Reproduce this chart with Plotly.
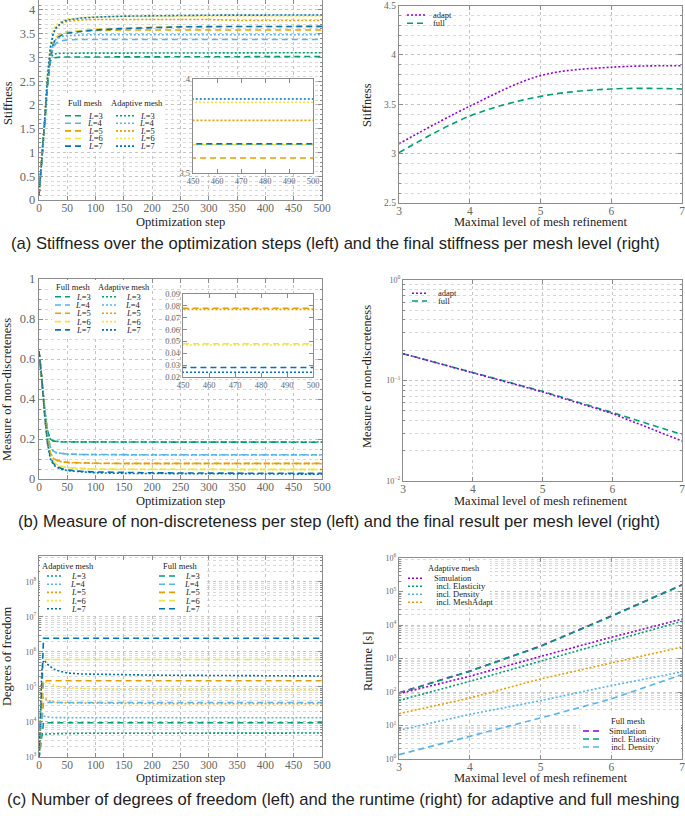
import plotly.graph_objects as go

W, H = 685, 816
SERIF = "Liberation Serif"
SANS = "Liberation Sans"

# ---------------- data ----------------
steps = [0, 5, 10, 15, 20, 25, 30, 40, 50, 75, 100, 150, 200, 250, 300, 350, 400, 450, 500]
levels = [3, 4, 5, 6, 7]

stiff_full_L3 = [0.10, 0.80, 1.60, 2.40, 2.92, 2.99, 3.00, 3.01, 3.01, 3.01, 3.01, 3.02, 3.02, 3.02, 3.02, 3.02, 3.02, 3.02, 3.02]
stiff_full_L4 = [0.10, 0.80, 1.60, 2.40, 2.95, 3.20, 3.30, 3.35, 3.37, 3.38, 3.38, 3.38, 3.38, 3.38, 3.38, 3.38, 3.38, 3.38, 3.38]
stiff_full_L5 = [0.10, 0.80, 1.62, 2.45, 3.00, 3.30, 3.42, 3.51, 3.54, 3.56, 3.57, 3.58, 3.58, 3.58, 3.58, 3.58, 3.58, 3.58, 3.58]
stiff_full_L6 = [0.10, 0.80, 1.62, 2.45, 3.00, 3.30, 3.42, 3.50, 3.53, 3.57, 3.60, 3.62, 3.64, 3.65, 3.65, 3.65, 3.65, 3.65, 3.65]
stiff_full_L7 = [0.10, 0.80, 1.62, 2.45, 3.00, 3.28, 3.40, 3.47, 3.51, 3.55, 3.58, 3.61, 3.63, 3.645, 3.65, 3.655, 3.655, 3.655, 3.655]
stiff_adapt_L3 = [0.10, 0.80, 1.62, 2.45, 3.00, 3.06, 3.08, 3.09, 3.09, 3.09, 3.10, 3.10, 3.10, 3.10, 3.10, 3.10, 3.10, 3.10, 3.10]
stiff_adapt_L4 = [0.10, 0.80, 1.62, 2.45, 3.00, 3.28, 3.38, 3.44, 3.46, 3.47, 3.48, 3.48, 3.48, 3.48, 3.48, 3.48, 3.48, 3.48, 3.48]
stiff_adapt_L5 = [0.10, 0.82, 1.70, 2.60, 3.20, 3.50, 3.62, 3.72, 3.76, 3.79, 3.80, 3.80, 3.80, 3.80, 3.80, 3.78, 3.78, 3.78, 3.78]
stiff_adapt_L6 = [0.10, 0.82, 1.70, 2.60, 3.25, 3.55, 3.68, 3.77, 3.81, 3.84, 3.855, 3.865, 3.87, 3.875, 3.875, 3.876, 3.876, 3.876, 3.876]
stiff_adapt_L7 = [0.10, 0.82, 1.70, 2.60, 3.20, 3.50, 3.62, 3.74, 3.79, 3.83, 3.85, 3.87, 3.88, 3.885, 3.89, 3.892, 3.894, 3.894, 3.894]

nd_full_L3 = [0.64, 0.50, 0.34, 0.24, 0.20, 0.19, 0.188, 0.186, 0.185, 0.185, 0.184, 0.184, 0.184, 0.184, 0.184, 0.184, 0.184, 0.184, 0.184]
nd_full_L4 = [0.64, 0.50, 0.33, 0.22, 0.16, 0.14, 0.132, 0.127, 0.125, 0.123, 0.122, 0.121, 0.121, 0.121, 0.121, 0.121, 0.121, 0.121, 0.121]
nd_full_L5 = [0.64, 0.50, 0.33, 0.20, 0.13, 0.105, 0.095, 0.087, 0.083, 0.080, 0.079, 0.078, 0.078, 0.078, 0.078, 0.078, 0.078, 0.078, 0.078]
nd_full_L6 = [0.64, 0.50, 0.32, 0.19, 0.12, 0.090, 0.075, 0.062, 0.057, 0.052, 0.050, 0.049, 0.048, 0.048, 0.048, 0.048, 0.048, 0.048, 0.048]
nd_full_L7 = [0.64, 0.50, 0.32, 0.18, 0.11, 0.080, 0.065, 0.052, 0.045, 0.038, 0.035, 0.032, 0.031, 0.030, 0.029, 0.029, 0.028, 0.028, 0.028]
nd_adapt_L3 = [0.64, 0.50, 0.34, 0.24, 0.20, 0.19, 0.188, 0.186, 0.186, 0.185, 0.185, 0.185, 0.185, 0.185, 0.185, 0.185, 0.185, 0.185, 0.185]
nd_adapt_L4 = [0.64, 0.50, 0.33, 0.22, 0.16, 0.14, 0.131, 0.126, 0.124, 0.122, 0.121, 0.120, 0.120, 0.120, 0.120, 0.120, 0.120, 0.120, 0.120]
nd_adapt_L5 = [0.64, 0.50, 0.33, 0.20, 0.13, 0.104, 0.094, 0.086, 0.082, 0.079, 0.078, 0.077, 0.077, 0.077, 0.077, 0.079, 0.077, 0.077, 0.077]
nd_adapt_L6 = [0.64, 0.50, 0.32, 0.19, 0.12, 0.089, 0.074, 0.061, 0.056, 0.051, 0.049, 0.048, 0.047, 0.047, 0.047, 0.047, 0.047, 0.047, 0.047]
nd_adapt_L7 = [0.64, 0.50, 0.32, 0.18, 0.10, 0.075, 0.060, 0.048, 0.042, 0.035, 0.031, 0.028, 0.027, 0.026, 0.025, 0.025, 0.025, 0.024, 0.024]

dof_steps = [0, 3, 5, 8, 10, 15, 20, 30, 50, 75, 100, 150, 200, 250, 300, 350, 400, 450, 500]
dof_adapt_L3 = [900, 4200, 4300, 4400, 4500, 4550, 4600, 4650, 4700, 4750, 4750, 4800, 4800, 4800, 4800, 4800, 4800, 4850, 4850]
dof_adapt_L4 = [900, 9000, 14000, 15000, 14500, 14000, 13500, 13300, 13200, 13200, 13200, 13200, 13200, 13200, 13200, 13200, 13200, 13200, 13200]
dof_adapt_L5 = [900, 20000, 45000, 50000, 47000, 42000, 39000, 36000, 35000, 34500, 34000, 34000, 33500, 33500, 33500, 33500, 33500, 33500, 33500]
dof_adapt_L6 = [900, 40000, 120000, 150000, 145000, 130000, 120000, 105000, 95000, 90000, 88000, 86000, 85000, 85000, 85000, 84000, 84000, 84000, 84000]
dof_adapt_L7 = [900, 80000, 300000, 580000, 550000, 450000, 380000, 300000, 250000, 235000, 230000, 222000, 218000, 215000, 212000, 210000, 208000, 207000, 206000]
dof_full_steps = [0, 8, 500]
dof_full_L3 = [900, 9500, 9500]
dof_full_L4 = [900, 36000, 36000]
dof_full_L5 = [900, 150000, 150000]
dof_full_L6 = [900, 610000, 610000]
dof_full_L7 = [900, 2450000, 2450000]

final_stiff_adapt = [3.10, 3.48, 3.79, 3.875, 3.89]
final_stiff_full = [3.01, 3.38, 3.58, 3.655, 3.655]
final_nd_adapt = [0.185, 0.120, 0.077, 0.047, 0.025]
final_nd_full = [0.185, 0.121, 0.078, 0.048, 0.029]

rt_adapt_sim = [89, 295, 1150, 4300, 15000]
rt_adapt_elast = [56, 208, 830, 3250, 12900]
rt_adapt_dens = [7.2, 21.5, 55, 155, 400]
rt_adapt_mesh = [22.5, 66, 245, 740, 2200]
rt_full_sim = [95, 420, 2350, 18500, 158000]
rt_full_elast = [93, 415, 2300, 18000, 156000]
rt_full_dens = [1.35, 4.7, 16.7, 62, 330]

dof_tickvals = [1e3, 1e4, 1e5, 1e6, 1e7, 1e8]
dof_ticktext = ["10<sup>3</sup>", "10<sup>4</sup>", "10<sup>5</sup>", "10<sup>6</sup>", "10<sup>7</sup>", "10<sup>8</sup>"]
nd_tickvals = [0.01, 0.1, 1]
nd_ticktext = ["10<sup>\u22122</sup>", "10<sup>\u22121</sup>", "10<sup>0</sup>"]
rt_tickvals = [1, 10, 100, 1e3, 1e4, 1e5, 1e6]
rt_ticktext = ["10<sup>0</sup>", "10<sup>1</sup>", "10<sup>2</sup>", "10<sup>3</sup>", "10<sup>4</sup>", "10<sup>5</sup>", "10<sup>6</sup>"]

captions = [
    "(a) Stiffness over the optimization steps (left) and the final stiffness per mesh level (right)",
    "(b) Measure of non-discreteness per step (left) and the final result per mesh level (right)",
    "(c) Number of degrees of freedom (left) and the runtime (right) for adaptive and full meshing",
]

# ---------------- styles ----------------
LEVEL_COLORS = {3: "#009E73", 4: "#56B4E9", 5: "#E69F00", 6: "#F0E442", 7: "#0072B2"}
PURPLE = "#9400D3"
GREEN = "#009E73"
LBLUE = "#56B4E9"
ORANGE = "#E69F00"
DASH = "6px,4px"
DOT = "2px,2px"
LW = 1.6

stiff_full = dict(zip(levels, [stiff_full_L3, stiff_full_L4, stiff_full_L5, stiff_full_L6, stiff_full_L7]))
stiff_adapt = dict(zip(levels, [stiff_adapt_L3, stiff_adapt_L4, stiff_adapt_L5, stiff_adapt_L6, stiff_adapt_L7]))
nd_full = dict(zip(levels, [nd_full_L3, nd_full_L4, nd_full_L5, nd_full_L6, nd_full_L7]))
nd_adapt = dict(zip(levels, [nd_adapt_L3, nd_adapt_L4, nd_adapt_L5, nd_adapt_L6, nd_adapt_L7]))
dof_adapt = dict(zip(levels, [dof_adapt_L3, dof_adapt_L4, dof_adapt_L5, dof_adapt_L6, dof_adapt_L7]))
dof_full = dict(zip(levels, [dof_full_L3, dof_full_L4, dof_full_L5, dof_full_L6, dof_full_L7]))


def fx(p):
    return p / W


def fy(p):
    return 1 - p / H


def dom_x(a, b):
    return [fx(a), fx(b)]


def dom_y(top, bottom):
    return [fy(bottom), fy(top)]


fig = go.Figure()


def line(x, y, ax, color, dash, name, shape="linear", width=LW):
    fig.add_trace(go.Scatter(
        x=x, y=y, mode="lines", name=name, showlegend=False,
        xaxis="x" + ax, yaxis="y" + ax,
        line=dict(color=color, dash=dash, width=width, shape=shape),
        hoverinfo="skip"))


# top-left (axis "") + inset ("3")
for ax in ["", "3"]:
    for L in levels:
        line(steps, stiff_full[L], ax, LEVEL_COLORS[L], DASH, f"Full L={L}")
    for L in levels:
        line(steps, stiff_adapt[L], ax, LEVEL_COLORS[L], DOT, f"Adaptive L={L}")

# top-right
line(levels, final_stiff_full, "2", GREEN, DASH, "full", shape="spline")
line(levels, final_stiff_adapt, "2", PURPLE, DOT, "adapt", shape="spline")

# middle-left ("4") + inset ("6")
for ax in ["4", "6"]:
    for L in levels:
        line(steps, nd_full[L], ax, LEVEL_COLORS[L], DASH, f"Full L={L}")
    for L in levels:
        line(steps, nd_adapt[L], ax, LEVEL_COLORS[L], DOT, f"Adaptive L={L}")

# middle-right
line(levels, final_nd_full, "5", GREEN, DASH, "full")
line(levels, final_nd_adapt, "5", PURPLE, DOT, "adapt")

# bottom-left
for L in levels:
    line(dof_steps, dof_adapt[L], "7", LEVEL_COLORS[L], DOT, f"Adaptive L={L}")
for L in levels:
    line(dof_full_steps, dof_full[L], "7", LEVEL_COLORS[L], DASH, f"Full L={L}")

# bottom-right
line(levels, rt_full_sim, "8", PURPLE, DASH, "Full Simulation")
line(levels, rt_full_elast, "8", GREEN, DASH, "Full incl. Elasticity")
line(levels, rt_full_dens, "8", LBLUE, DASH, "Full incl. Density")
line(levels, rt_adapt_sim, "8", PURPLE, DOT, "Adaptive Simulation")
line(levels, rt_adapt_elast, "8", GREEN, DOT, "Adaptive incl. Elasticity")
line(levels, rt_adapt_dens, "8", LBLUE, DOT, "Adaptive incl. Density")
line(levels, rt_adapt_mesh, "8", ORANGE, DOT, "Adaptive incl. MeshAdapt")

# ---------------- axes ----------------
FRAME = "#8c8c8c"
TICKC = "#666666"
TITLEC = "#222222"


def axis(domain, rng, anchor, tick_size=12.5, grid=True, minor_dtick=None, log=False, **kw):
    d = dict(domain=domain, range=rng, anchor=anchor, showline=True, linecolor=FRAME,
             linewidth=1.4, mirror="ticks", ticks="inside", ticklen=4, tickcolor=FRAME,
             tickfont=dict(family=SERIF, size=tick_size, color=TICKC),
             showgrid=grid, gridcolor="#c4c4c4", griddash="dot", gridwidth=1,
             zeroline=False, layer="above traces", automargin=False,
             ticklabeloverflow="allow")
    if log:
        d["type"] = "log"
    if minor_dtick is not None:
        d["minor"] = dict(dtick=minor_dtick, showgrid=grid, gridcolor="#d9d9d9",
                          griddash="dot", gridwidth=1, ticks="inside", ticklen=2,
                          tickcolor=FRAME)
    d.update(kw)
    return d


def xmain(domain, rng, anchor, **kw):
    return axis(domain, rng, anchor, tick_size=11.5, ticklabelstandoff=-3, **kw)


L_X = (39, 322)
R_X = (399, 682)

lay = dict(
    # top-left
    xaxis=xmain(dom_x(*L_X), [0, 500], "y", dtick=50),
    yaxis=axis(dom_y(0, 200), [0, 4.21], "x", dtick=0.5, minor_dtick=0.1),
    # top-right
    xaxis2=xmain(dom_x(*R_X), [3, 7], "y2", dtick=1),
    yaxis2=axis(dom_y(5.5, 203), [2.5, 4.5], "x2", tick_size=9.5, dtick=0.5, minor_dtick=0.1),
    # top inset
    xaxis3=axis(dom_x(193, 313), [450, 500], "y3", tick_size=8.5, grid=False, dtick=10),
    yaxis3=axis(dom_y(79, 173), [3.5, 4.0], "x3", tick_size=8.5, grid=False, dtick=0.5),
    # middle-left
    xaxis4=xmain(dom_x(*L_X), [0, 500], "y4", dtick=50),
    yaxis4=axis(dom_y(279, 479), [0, 1], "x4", dtick=0.2, minor_dtick=0.05),
    # middle-right
    xaxis5=xmain(dom_x(403, 682), [3, 7], "y5", dtick=1),
    yaxis5=axis(dom_y(280, 481), [-2, 0], "x5", tick_size=8, log=True, tickmode="array",
                tickvals=nd_tickvals, ticktext=nd_ticktext, minor_dtick="D1"),
    # middle inset
    xaxis6=axis(dom_x(183, 313), [450, 500], "y6", tick_size=8.5, grid=False, dtick=10),
    yaxis6=axis(dom_y(294, 377), [0.02, 0.09], "x6", tick_size=8.5, grid=False, dtick=0.01),
    # bottom-left
    xaxis7=xmain(dom_x(*L_X), [0, 500], "y7", dtick=50),
    yaxis7=axis(dom_y(556, 757), [3, 8.74], "x7", tick_size=8, log=True, tickmode="array",
                tickvals=dof_tickvals, ticktext=dof_ticktext, minor_dtick="D1"),
    # bottom-right
    xaxis8=xmain(dom_x(*R_X), [3, 7], "y8", dtick=1),
    yaxis8=axis(dom_y(558, 759), [0, 6], "x8", tick_size=8, log=True, tickmode="array",
                tickvals=rt_tickvals, ticktext=rt_ticktext, minor_dtick="D1"),
)

shapes = []
annotations = []

# white backgrounds for the insets (drawn inside the inset subplot, below its traces)
for ax, xr, yr in [("3", lay["xaxis3"]["range"], lay["yaxis3"]["range"]),
                   ("6", lay["xaxis6"]["range"], lay["yaxis6"]["range"])]:
    shapes.append(dict(type="rect", xref="x" + ax, yref="y" + ax, x0=xr[0], x1=xr[1],
                       y0=yr[0], y1=yr[1], fillcolor="white", line=dict(width=0),
                       layer="below"))

# axis titles
TITLE_FONT = dict(family=SERIF, size=12.5, color=TITLEC)


def xtitle(text, xc, y):
    annotations.append(dict(text=text, x=fx(xc), y=fy(y), xref="paper", yref="paper",
                            showarrow=False, xanchor="center", yanchor="middle",
                            font=TITLE_FONT))


def ytitle(text, x, yc):
    annotations.append(dict(text=text, x=fx(x), y=fy(yc), xref="paper", yref="paper",
                            showarrow=False, xanchor="center", yanchor="middle",
                            textangle=-90, font=TITLE_FONT))


for ty in [222, 501, 778]:
    xtitle("Optimization step", (L_X[0] + L_X[1]) / 2, ty)
    xtitle("Maximal level of mesh refinement", (R_X[0] + R_X[1]) / 2, ty)

ytitle("Stiffness", 8, 103)
ytitle("Measure of non-discreteness", 7, 390)
ytitle("Degrees of freedom", 7, 656)
ytitle("Stiffness", 367, 105)
ytitle("Measure of non-discreteness", 367, 377)
ytitle("Runtime [s]", 368, 662)

LEG_FONT = dict(family=SERIF, size=8.5, color="#222")


def leg_bg(x0, y0, x1, y1):
    shapes.append(dict(type="rect", xref="paper", yref="paper", x0=fx(x0), x1=fx(x1),
                       y0=fy(y1), y1=fy(y0), fillcolor="white", line=dict(width=0),
                       layer="above"))


def leg_title(text, xc, y):
    annotations.append(dict(text=text, x=fx(xc), y=fy(y), xref="paper", yref="paper",
                            showarrow=False, xanchor="center", yanchor="middle",
                            font=LEG_FONT))


def leg_items(items, xs0, xs1, xl, y0, dy, anchor="left"):
    for i, (color, dash, label) in enumerate(items):
        y = y0 + i * dy
        shapes.append(dict(type="line", xref="paper", yref="paper", x0=fx(xs0), x1=fx(xs1),
                           y0=fy(y), y1=fy(y), line=dict(color=color, dash=dash, width=LW),
                           layer="above"))
        annotations.append(dict(text=label, x=fx(xl), y=fy(y), xref="paper", yref="paper",
                                showarrow=False, xanchor=anchor, yanchor="middle",
                                font=LEG_FONT))


lvl_lbl = [f"<i>L</i>={L}" for L in levels]
full_items = [(LEVEL_COLORS[L], DASH, lbl) for L, lbl in zip(levels, lvl_lbl)]
adapt_items = [(LEVEL_COLORS[L], DOT, lbl) for L, lbl in zip(levels, lvl_lbl)]

# top-left legend
leg_bg(62, 95, 165, 152)
leg_title("Full mesh", 85, 103)
leg_title("Adaptive mesh", 137, 103)
leg_items(full_items, 65, 85, 105, 115.7, 7.6, anchor="right")
leg_items(adapt_items, 116, 135, 157, 115.7, 7.6, anchor="right")

# top-right legend
leg_items([(PURPLE, DOT, "adapt"), (GREEN, DASH, "full")], 407, 427, 431, 15, 8.3)

# middle-left legend
leg_bg(52, 280, 152, 336)
leg_title("Full mesh", 73, 286.7)
leg_title("Adaptive mesh", 124, 286.7)
leg_items(full_items, 55, 70, 93, 296.7, 8.3, anchor="right")
leg_items(adapt_items, 102, 118, 143, 296.7, 8.3, anchor="right")

# middle-right legend
leg_items([(PURPLE, DOT, "adapt"), (GREEN, DASH, "full")], 412, 427, 436, 293.3, 7.7)

# bottom-left legend
leg_bg(40, 560, 205, 614)
leg_title("Adaptive mesh", 68, 566)
leg_title("Full mesh", 180, 566)
leg_items(adapt_items, 47, 62, 88, 576, 8.2, anchor="right")
leg_items(full_items, 159, 176, 202, 576, 8.2, anchor="right")

# bottom-right legends
leg_bg(404, 561, 490, 607)
leg_title("Adaptive mesh", 454, 568.3)
leg_items([(PURPLE, DOT, "Simulation"), (GREEN, DOT, "\u00a0incl. Elasticity"),
           (LBLUE, DOT, "\u00a0incl. Density"), (ORANGE, DOT, "\u00a0incl. MeshAdapt")],
          408, 423, 431.5, 578.3, 8.0)
leg_bg(580, 714, 681, 752)
leg_title("Full mesh", 628.5, 721)
leg_items([(PURPLE, DASH, "Simulation"), (GREEN, DASH, "\u00a0incl. Elasticity"),
           (LBLUE, DASH, "\u00a0incl. Density")], 583, 599, 606.5, 731, 8.0)

# captions
for text, y, xc in zip(captions, [243, 521, 799], [335.5, 338.5, 342.5]):
    annotations.append(dict(text=text, x=fx(xc), y=fy(y), xref="paper", yref="paper",
                            showarrow=False, xanchor="center", yanchor="middle",
                            font=dict(family=SANS, size=16.6, color="#222")))

fig.update_layout(
    width=W, height=H, autosize=False,
    margin=dict(l=0, r=0, t=0, b=0, pad=0),
    paper_bgcolor="white", plot_bgcolor="white",
    showlegend=False,
    shapes=shapes, annotations=annotations,
    **lay,
)

fig.write_html(
    "out.html",
    config={"displayModeBar": False},
    post_script="document.body.style.margin='0';document.body.style.overflow='hidden';",
)
